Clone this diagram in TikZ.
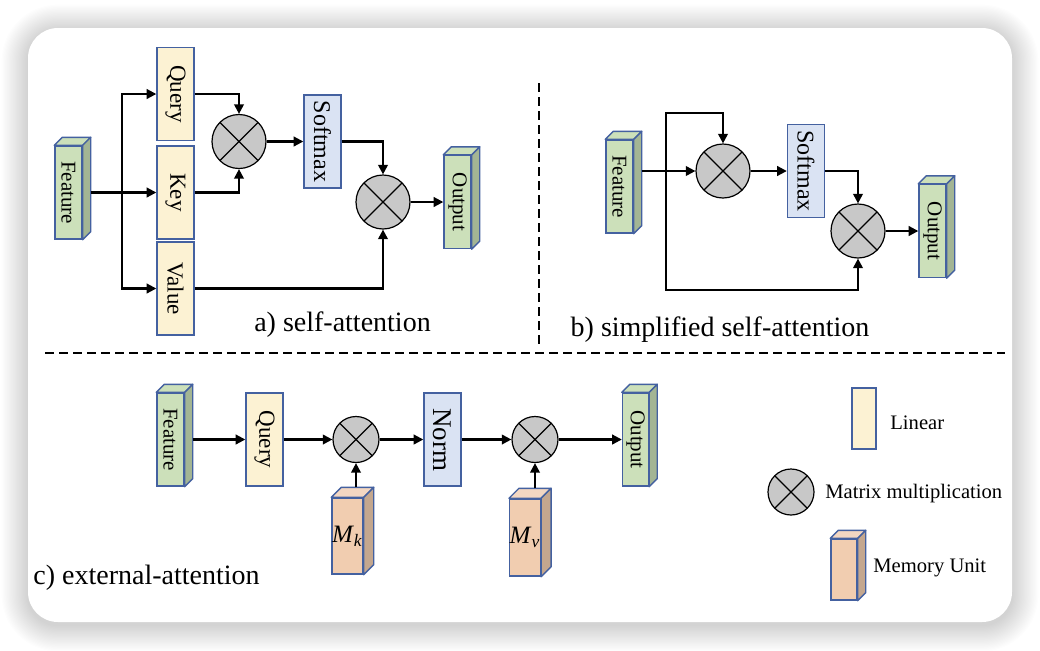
\documentclass[tikz,border=0pt]{standalone}
\usepackage{fontspec}
\setmainfont{Liberation Serif}
\usetikzlibrary{arrows.meta,calc}
\definecolor{bord}{HTML}{4461A0}
\definecolor{linfill}{HTML}{FCF2D3}
\definecolor{smfill}{HTML}{DAE3F3}
\definecolor{gfront}{HTML}{CCE0BA}
\definecolor{gtop}{HTML}{CCE0BA}
\definecolor{gside}{HTML}{A3B594}
\definecolor{mfront}{HTML}{F1CDB0}
\definecolor{mtop}{HTML}{F3D7C2}
\definecolor{mside}{HTML}{C4A78E}
\definecolor{mulfill}{HTML}{C8C8C8}
\newcommand{\mycube}[7]{%
  \node[cubefront, fill=#6front, minimum width=#3*0.5pt, minimum height=#4*0.5pt] (#1) at #2 {#7};
  \draw[cubeedge, fill=#6top] (#1.north west) -- ++(#5,-#5) -- ([shift={(#5,-#5)}]#1.north east) -- (#1.north east) -- cycle;
  \draw[cubeedge, fill=#6side] (#1.north east) -- ++(#5,-#5) -- ([shift={(#5,-#5)}]#1.south east) -- (#1.south east) -- cycle;
}
\begin{document}
\begin{tikzpicture}[x=0.5pt,y=-0.5pt,
  arr/.style={line width=1.05pt, -{Triangle[length=4.8pt,width=4.8pt]}},
  linbox/.style={draw=bord, fill=linfill, line width=0.7pt, minimum width=18.5pt, minimum height=46.5pt, inner sep=0pt, font=\fontsize{11.5}{12}\selectfont},
  smbox/.style={linbox, fill=smfill, font=\fontsize{12}{12}\selectfont},
  cubefront/.style={draw=bord, line width=0.7pt, inner sep=0pt, font=\fontsize{10.5}{11}\selectfont},
  cubeedge/.style={draw=bord, line width=0.7pt, line join=round},
  mul/.style={circle, draw=black, line width=0.6pt, fill=mulfill, minimum size=27pt, inner sep=0pt,
    path picture={\draw[line width=0.6pt] (path picture bounding box.north west) -- (path picture bounding box.south east) (path picture bounding box.north east) -- (path picture bounding box.south west);}},
  smul/.style={mul, minimum size=23pt},
  captxt/.style={font=\fontsize{14}{16}\selectfont},
  legtxt/.style={font=\fontsize{10.3}{12}\selectfont, anchor=west, inner sep=0pt},
  sep/.style={line width=0.65pt, dash pattern=on 4.5pt off 2.5pt}
]
\useasboundingbox (0,0) rectangle (1040,650);
\fill[white] (0,0) rectangle (1040,650);
% shadow
\foreach \i in {1,...,22} {
  \fill[black, opacity=0.0065, rounded corners={(15+0.6*\i)*1pt}] ({28-1.2*\i},{28-1.2*\i+3}) rectangle ({1012+1.2*\i},{622+1.2*\i+3});
}
\fill[white, rounded corners=15pt] (28,28) rectangle (1012,622);

% ---------- a) self-attention
\mycube{fa}{(68.5,192.5)}{27}{93}{8}{g}{\rotatebox{-90}{Feature}}
\node[linbox] (qa) at (175.5,94) {\rotatebox{-90}{Query}};
\node[linbox] (ka) at (175.5,192.5) {\rotatebox{-90}{Key}};
\node[linbox] (va) at (175.5,288.5) {\rotatebox{-90}{Value}};
\node[mul] (ca1) at (239,141.5) {};
\node[smbox] (sa) at (322.5,141.5) {\rotatebox{-90}{Softmax}};
\node[mul] (ca2) at (383,202) {};
\mycube{oa}{(457.5,202)}{27}{93}{8}{g}{\rotatebox{-90}{Output}}
\coordinate (fao) at ([xshift=4pt]fa.east);
\coordinate (ja) at (122,192.5);
\draw[arr] (fao) -- (ka.west);
\draw[arr] (ja) |- (qa.west);
\draw[arr] (ja) |- (va.west);
\draw[arr] (qa.east) -| (ca1.north);
\draw[arr] (ka.east) -| (ca1.south);
\draw[arr] (ca1.east) -- (sa.west);
\draw[arr] (sa.east) -| (ca2.north);
\draw[arr] (va.east) -| (ca2.south);
\draw[arr] (ca2.east) -- (oa.west);
\node[captxt] (capa) at (342.5,325) {a) self-attention};

% ---------- b) simplified self-attention
\mycube{fb}{(619.5,186.5)}{27}{93}{8}{g}{\rotatebox{-90}{Feature}}
\node[mul] (cb1) at (723,171) {};
\node[smbox] (sb) at (806,171) {\rotatebox{-90}{Softmax}};
\node[mul] (cb2) at (858,231) {};
\mycube{ob}{(932.5,231)}{27}{93}{8}{g}{\rotatebox{-90}{Output}}
\coordinate (fbo) at ([xshift=4pt]fb.east);
\coordinate (jb) at (666,171);
\coordinate (tb) at (666,113);
\coordinate (bb) at (666,290);
\draw[arr] (fbo |- cb1.west) -- (cb1.west);
\draw[arr] (jb) -- (tb) -| (cb1.north);
\draw[arr] (jb) -- (bb) -| (cb2.south);
\draw[arr] (cb1.east) -- (sb.west);
\draw[arr] (sb.east) -| (cb2.north);
\draw[arr] (cb2.east) -- (ob.west);
\node[captxt] (capb) at (720,330) {b) simplified self-attention};

% ---------- separators
\coordinate (v1) at (539,83);
\coordinate (v2) at (539,348);
\draw[sep] (v1) -- (v2);
\coordinate (h1) at (45,353);
\coordinate (h2) at (1005,353);
\draw[sep] (h1) -- (h2);

% ---------- c) external-attention
\mycube{fc}{(170.5,439.5)}{27}{93}{8}{g}{\rotatebox{-90}{Feature}}
\node[linbox] (qc) at (264.5,439.5) {\rotatebox{-90}{Query}};
\node[smul] (cc1) at (356,439.5) {};
\node[smbox, font=\fontsize{13.5}{14}\selectfont] (nc) at (442.5,439.5) {\rotatebox{-90}{Norm}};
\node[smul] (cc2) at (535,439.5) {};
\mycube{oc}{(635.5,439.5)}{26}{93}{8}{g}{\rotatebox{-90}{Output}}
\mycube{mk}{(347.5,536)}{29}{76}{10}{m}{\fontsize{12.5}{12}\selectfont\textit{M}\textsubscript{\textit{k}}}
\mycube{mv}{(525,537.5)}{28}{77}{10}{m}{\fontsize{12.5}{12}\selectfont\textit{M}\textsubscript{\textit{v}}}
\coordinate (fco) at ([xshift=4pt]fc.east);
\coordinate (mkt) at ([yshift=5pt]mk.north);
\coordinate (mvt) at ([yshift=5pt]mv.north);
\draw[arr] (fco) -- (qc.west);
\draw[arr] (qc.east) -- (cc1.west);
\draw[arr] (cc1.east) -- (nc.west);
\draw[arr] (nc.east) -- (cc2.west);
\draw[arr] (cc2.east) -- (oc.west);
\draw[arr] (cc1.south |- mkt) -- (cc1.south);
\draw[arr] (cc2.south |- mvt) -- (cc2.south);
\node[captxt] (capc) at (146.5,578) {c) external-attention};

% ---------- legend
\node[linbox, minimum width=12pt, minimum height=30.5pt] (lg1) at (864,418.5) {};
\node[legtxt] (lt1) at (890,423) {Linear};
\node[smul] (lg2) at (791,492) {};
\node[legtxt] (lt2) at (825,494) {Matrix multiplication};
\mycube{lg3}{(844,569.5)}{26}{61}{8}{m}{}
\node[legtxt] (lt3) at (873,568) {Memory Unit};
\end{tikzpicture}
\end{document}
